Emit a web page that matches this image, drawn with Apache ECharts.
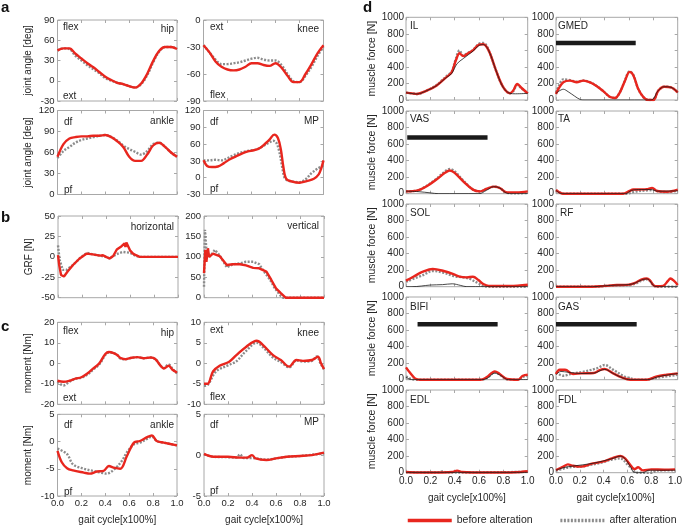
<!DOCTYPE html>
<html><head><meta charset="utf-8">
<script src="https://cdn.jsdelivr.net/npm/echarts@6/dist/echarts.min.js"></script>
<style>html,body{margin:0;padding:0;background:#fff}#c{width:685px;height:526px}</style>
</head><body><div id="c"></div>
<script>
// ---------- data ----------
const gait21 = [0,0.05,0.1,0.15,0.2,0.25,0.3,0.35,0.4,0.45,0.5,0.55,0.6,0.65,0.7,0.75,0.8,0.85,0.9,0.95,1];
const xTickLabels = ['0.0','0.2','0.4','0.6','0.8','1.0'];

// (a) joint angles
const hipAngBefore = [45,48,48,40,33,26,20,13,6,1,-3,-5,-8,-10,-4,10,29,44,50,50,47];
const hipAngAfter  = [45,48,47,37,30,23,17,11,4,0,-3,-5,-8,-10,-5,8,27,43,50,50,47];
const kneeAngBefore = [-28,-36,-46,-52,-55,-56,-55,-52,-48,-48,-50,-51,-48,-53,-62,-69,-69,-60,-49,-37,-28];
const kneeAngAfter  = [-28,-36,-44,-49,-49,-48,-47,-45,-43,-42,-44,-45,-45,-50,-60,-68,-69,-62,-52,-40,-30];
const ankleAngBefore = [54,72,80,82,83,83,84,84,85,82,76,68,54,48,48,57,70,74,68,60,54];
const ankleAngAfter  = [52,62,68,74,78,80,82,84,85,82,77,70,65,61,57,62,72,74,68,60,54];
const mpAngBefore = [[0,31],[0.03,21],[0.07,19],[0.12,20],[0.17,26],[0.22,33],[0.27,38],[0.32,43],[0.37,47],[0.42,49],[0.47,53],[0.52,62],[0.55,68],[0.59,77],[0.62,71],[0.645,50],[0.665,20],[0.69,-2],[0.74,-7],[0.8,-9],[0.86,-6],[0.92,-2],[0.96,6],[0.98,16],[1,31]];
const mpAngAfter  = [[0,31],[0.05,31],[0.1,32],[0.15,31],[0.2,35],[0.25,40],[0.3,44],[0.35,47],[0.4,49],[0.45,51],[0.5,57],[0.55,63],[0.58,66],[0.605,63],[0.63,48],[0.655,20],[0.675,0],[0.7,-5],[0.75,-7],[0.8,-8],[0.85,-3],[0.9,8],[0.95,16],[1,22]];

// (b) ground reaction force
const grfHorBefore = [[0,2],[0.01,-10],[0.025,-22],[0.05,-24],[0.08,-18],[0.125,-10],[0.18,-2],[0.24,4],[0.29,3],[0.35,1.5],[0.375,2],[0.4,0],[0.43,-2],[0.46,1],[0.49,9],[0.53,13],[0.555,16.5],[0.562,12],[0.57,17.5],[0.6,8],[0.625,4],[0.65,2],[0.68,0],[1,0]];
const grfHorAfter  = [[0,14],[0.014,-4],[0.04,-16],[0.07,-16],[0.125,-10],[0.18,-2],[0.24,5],[0.29,3],[0.35,1.5],[0.4,0],[0.43,-2],[0.46,1],[0.5,4],[0.54,6],[0.6,5],[0.625,3],[0.65,1],[0.68,0],[1,0]];
const grfVerBefore = [[0,60],[0.011,117],[0.02,88],[0.033,121],[0.042,100],[0.075,108],[0.13,102],[0.19,80],[0.24,82],[0.3,82],[0.35,79],[0.41,73],[0.46,72],[0.52,64],[0.56,44],[0.6,23],[0.64,11],[0.68,0],[1,0]];
const grfVerAfter  = [[0,27],[0.008,166],[0.02,117],[0.047,100],[0.09,117],[0.13,104],[0.19,74],[0.24,82],[0.3,84],[0.35,88],[0.41,88],[0.46,82],[0.5,64],[0.55,44],[0.59,23],[0.64,4],[0.66,0],[1,0]];

// (c) joint moments
const hipMomBefore = [[0,-8.5],[0.05,-9],[0.1,-8.5],[0.15,-7.5],[0.2,-6.8],[0.25,-5],[0.3,-2.5],[0.35,0],[0.4,4.5],[0.43,5.5],[0.47,5],[0.5,4],[0.53,2.5],[0.57,2],[0.62,2.7],[0.67,3],[0.72,2.5],[0.78,2.8],[0.82,2],[0.86,-1],[0.89,-2.5],[0.93,-1.2],[0.96,-3],[1,-4.5]];
const hipMomAfter  = [[0,-9],[0.05,-10.8],[0.1,-9],[0.15,-7.5],[0.2,-7],[0.25,-5.5],[0.3,-3],[0.35,-0.5],[0.4,4],[0.43,5.3],[0.47,5],[0.5,4],[0.53,2.2],[0.57,2],[0.62,2.7],[0.67,3],[0.72,2.5],[0.78,2.8],[0.82,2],[0.86,-1],[0.89,-2.3],[0.93,-0.5],[0.96,-2.5],[1,-5]];
const kneeMomBefore = [[0,-5],[0.03,-5],[0.075,-2],[0.13,-0.6],[0.21,0.4],[0.27,2],[0.35,4],[0.44,5.5],[0.49,4.5],[0.575,2],[0.64,0.8],[0.71,-0.8],[0.77,0.8],[0.825,0.6],[0.9,0.8],[0.95,1.6],[0.975,0],[1,-1.4]];
const kneeMomAfter  = [[0,-5.5],[0.03,-5.3],[0.1,-2],[0.2,-0.5],[0.27,0.5],[0.35,3],[0.44,5],[0.5,3.7],[0.57,1.5],[0.64,0.3],[0.71,-1],[0.77,0.7],[0.83,0.4],[0.9,0.6],[0.94,1.7],[0.97,0],[1,-1.5]];
const ankleMomBefore = [[0,-1.7],[0.036,-3.8],[0.08,-4.9],[0.13,-5.3],[0.22,-5.7],[0.27,-5.9],[0.33,-5.5],[0.385,-5.4],[0.43,-4.5],[0.47,-4.8],[0.525,-5],[0.58,-2.7],[0.64,-0.2],[0.69,0.1],[0.75,0.8],[0.79,1.1],[0.83,0.1],[0.89,-0.2],[1,-0.7]];
const ankleMomAfter  = [[0,-1.3],[0.08,-2.3],[0.13,-4.2],[0.22,-5],[0.3,-5.4],[0.36,-5.7],[0.41,-5.9],[0.48,-5],[0.54,-3.5],[0.58,-2],[0.64,-0.5],[0.69,-0.2],[0.75,0.5],[0.79,0.9],[0.83,0.1],[0.89,-0.2],[1,-0.7]];
const mpMomBefore = [[0,0.15],[0.08,-0.2],[0.2,-0.2],[0.3,-0.3],[0.36,-0.3],[0.4,0],[0.43,-0.4],[0.52,-0.6],[0.6,-0.4],[0.69,-0.2],[0.8,-0.1],[0.9,0],[1,0.3]];
const mpMomAfter  = [[0,0.1],[0.08,-0.2],[0.2,-0.25],[0.27,-0.3],[0.3,0.1],[0.33,-0.35],[0.4,-0.35],[0.52,-0.55],[0.6,-0.4],[0.69,-0.2],[0.8,-0.1],[0.9,0.05],[1,0.2]];

// (d) muscle forces: before, after, other (thin black), EMG-on bars
const ilBefore = [[0,89],[0.05,80],[0.09,73],[0.17,113],[0.25,173],[0.33,274],[0.375,335],[0.41,480],[0.44,565],[0.47,530],[0.51,565],[0.55,600],[0.6,670],[0.635,675],[0.68,597],[0.745,335],[0.8,153],[0.855,81],[0.88,113],[0.915,194],[0.95,145],[1,81]];
const ilAfter  = [[0,89],[0.05,80],[0.09,73],[0.17,113],[0.25,180],[0.33,285],[0.375,345],[0.41,500],[0.44,600],[0.47,540],[0.51,570],[0.55,605],[0.6,680],[0.635,690],[0.68,600],[0.745,335],[0.8,150],[0.855,80],[0.88,105],[0.915,180],[0.95,140],[1,81]];
const ilOther  = [[0,89],[0.09,73],[0.17,113],[0.25,173],[0.33,270],[0.375,320],[0.42,440],[0.47,500],[0.51,545],[0.55,590],[0.6,660],[0.635,670],[0.68,597],[0.745,335],[0.8,150],[0.855,80],[0.9,75],[1,80]];
const gmedBefore = [[0,73],[0.02,133],[0.06,214],[0.115,234],[0.17,214],[0.225,234],[0.28,214],[0.33,173],[0.39,105],[0.44,40],[0.485,24],[0.525,93],[0.567,234],[0.605,340],[0.635,300],[0.676,133],[0.72,32],[0.76,0],[0.8,0],[0.84,113],[0.89,161],[0.945,153],[1,93]];
const gmedAfter  = [[0,90],[0.02,160],[0.06,250],[0.115,240],[0.17,220],[0.225,235],[0.28,214],[0.33,173],[0.39,105],[0.44,40],[0.485,24],[0.525,93],[0.567,240],[0.605,345],[0.635,305],[0.676,133],[0.72,32],[0.76,0],[0.8,0],[0.84,113],[0.89,161],[0.945,153],[1,93]];
const gmedOther  = [[0,80],[0.06,130],[0.1,100],[0.15,50],[0.2,5],[0.23,0],[0.78,0],[0.84,113],[0.89,161],[0.945,153],[1,93]];
const gmedBar = [[0,690],[0.655,690]];
const vasBefore = [[0,28],[0.09,37],[0.17,90],[0.25,171],[0.32,252],[0.36,280],[0.4,252],[0.47,150],[0.55,49],[0.61,28],[0.66,57],[0.72,85],[0.77,69],[0.83,16],[0.91,16],[1,28]];
const vasAfter  = [[0,28],[0.09,37],[0.17,95],[0.25,180],[0.32,270],[0.36,300],[0.4,270],[0.47,160],[0.55,52],[0.61,28],[0.66,57],[0.72,85],[0.77,69],[0.83,10],[0.91,5],[1,10]];
const vasOther  = [[0,30],[0.1,25],[0.2,10],[0.27,0],[0.6,0],[0.66,40],[0.72,85],[0.77,69],[0.83,5],[0.87,0],[1,0]];
const vasBar = [[0.01,680],[0.67,680]];
const taBefore = [[0,45],[0.03,15],[0.06,0],[0.55,0],[0.6,30],[0.635,50],[0.7,52],[0.745,55],[0.79,70],[0.83,33],[0.91,24],[1,50]];
const taAfter  = [[0,40],[0.04,10],[0.07,0],[0.58,0],[0.65,25],[0.75,40],[0.8,45],[0.85,25],[0.91,20],[1,35]];
const taOther  = [[0,40],[0.05,0],[0.57,0],[0.62,40],[0.7,50],[0.78,50],[0.84,30],[1,35]];
const solBefore = [[0,73],[0.06,121],[0.14,181],[0.22,214],[0.31,190],[0.39,153],[0.44,121],[0.5,113],[0.55,121],[0.595,81],[0.635,32],[0.68,8],[0.77,8],[0.855,8],[1,24]];
const solAfter  = [[0,60],[0.14,141],[0.22,190],[0.31,169],[0.39,129],[0.47,113],[0.52,97],[0.595,40],[0.635,8],[0.68,0],[1,0]];
const solOther  = [[0,0],[0.05,0],[0.2,20],[0.3,25],[0.38,35],[0.45,15],[0.5,0],[1,0]];
const rfBefore = [[0,0],[0.3,0],[0.4,10],[0.5,20],[0.6,25],[0.65,45],[0.7,85],[0.745,100],[0.77,80],[0.8,20],[0.83,5],[0.88,10],[0.92,70],[0.94,100],[0.97,70],[1,20]];
const rfAfter  = [[0,0],[0.3,0],[0.4,8],[0.5,15],[0.6,20],[0.65,35],[0.7,70],[0.74,90],[0.77,70],[0.8,15],[0.83,0],[1,0]];
const rfOther  = [[0,0],[0.3,0],[0.4,10],[0.5,20],[0.6,25],[0.65,45],[0.7,80],[0.745,95],[0.77,75],[0.8,15],[0.83,0],[1,0]];
const bifiBefore = [[0,149],[0.03,89],[0.074,16],[0.115,0],[0.61,0],[0.66,28],[0.73,101],[0.77,69],[0.83,8],[0.92,0],[0.96,48],[1,60]];
const bifiAfter  = [[0,40],[0.04,10],[0.08,0],[0.62,0],[0.67,25],[0.73,90],[0.77,60],[0.83,5],[0.92,0],[0.96,35],[1,45]];
const bifiOther  = [[0,30],[0.05,0],[0.62,0],[0.67,20],[0.73,80],[0.78,50],[0.84,0],[1,0]];
const bifiBar = [[0.095,670],[0.753,670]];
const gasBefore = [[0,69],[0.03,121],[0.074,121],[0.14,69],[0.21,77],[0.31,81],[0.36,117],[0.4,129],[0.47,77],[0.54,28],[0.61,0],[0.745,0],[0.83,40],[0.91,60],[1,77]];
const gasAfter  = [[0,89],[0.06,48],[0.14,77],[0.225,97],[0.335,137],[0.4,177],[0.47,121],[0.55,48],[0.63,8],[0.68,0],[0.72,0],[0.85,28],[1,60]];
const gasOther  = [[0,60],[0.04,100],[0.1,90],[0.2,75],[0.31,80],[0.4,125],[0.47,75],[0.55,20],[0.61,0],[0.75,0],[0.85,40],[1,75]];
const gasBar = [[0,670],[0.663,670]];
const edlBefore = [[0,8],[0.1,3],[0.3,3],[0.38,8],[0.42,25],[0.46,8],[0.55,3],[0.8,3],[0.9,6],[1,18]];
const edlAfter  = [[0,5],[0.2,3],[0.27,5],[0.3,15],[0.33,5],[0.45,3],[1,10]];
const edlOther  = [[0,4],[1,4]];
const fdlBefore = [[0,33],[0.06,73],[0.1,101],[0.14,85],[0.21,73],[0.31,113],[0.39,133],[0.47,173],[0.54,202],[0.58,173],[0.635,73],[0.66,44],[0.69,65],[0.73,28],[0.8,40],[0.91,36],[1,40]];
const fdlAfter  = [[0,24],[0.09,60],[0.14,70],[0.21,75],[0.31,100],[0.39,125],[0.47,160],[0.54,173],[0.6,100],[0.65,30],[0.67,0],[0.8,0],[0.85,25],[1,30]];
const fdlOther  = [[0,30],[0.06,60],[0.14,80],[0.31,113],[0.47,170],[0.54,200],[0.58,170],[0.63,60],[0.66,0],[0.73,0],[0.78,30],[1,30]];

// ---------- layout ----------
const FONT = '"Liberation Sans", Arial, sans-serif';
const RED = '#e8261e', GRAY = '#8c8c8c', BLACK = '#1a1a1a', AXC = '#a8a8a8', TXT = '#262626';
const pair = ys => ys.map((y, i) => [gait21[i], y]);

const dTops = [17.3, 111, 204, 297, 390];
const D_H = 82.7, D_W = 121.7, D_L1 = 406, D_L2 = 556;

const panels = [
  // a
  {r:[57.5,20,119.5,81], y:[-30,90,30], name:'joint angle [deg]', gap:24, b:pair(hipAngBefore), a:pair(hipAngAfter)},
  {r:[203.5,20,120,81], y:[-90,0,30], b:pair(kneeAngBefore), a:pair(kneeAngAfter)},
  {r:[57.5,110.5,119.5,84], y:[0,120,30], name:'joint angle [deg]', gap:24, b:pair(ankleAngBefore), a:pair(ankleAngAfter)},
  {r:[203.5,110.5,120,84], y:[-30,120,30], b:mpAngBefore, a:mpAngAfter},
  // b
  {r:[58,216,120,81.7], y:[-50,50,25], name:'GRF [N]', gap:24, b:grfHorBefore, a:grfHorAfter, sharp:true},
  {r:[204,216,120,81.7], y:[0,200,50], b:grfVerBefore, a:grfVerAfter, sharp:true},
  // c
  {r:[57.5,322.3,119.5,82], y:[-20,20,10], name:'moment [Nm]', gap:24, b:hipMomBefore, a:hipMomAfter},
  {r:[204,322.3,120,82], y:[-10,10,5], b:kneeMomBefore, a:kneeMomAfter},
  {r:[57.5,414.3,119.5,83], y:[-10,5,5], name:'moment [Nm]', gap:24, b:ankleMomBefore, a:ankleMomAfter, xl:true},
  {r:[204,414.3,120,83], y:[-5,5,5], b:mpMomBefore, a:mpMomAfter, xl:true},
  // d
  {r:[D_L1,dTops[0],D_W,D_H], y:[0,1000,200], name:'muscle force [N]', gap:27, d:true, b:ilBefore, a:ilAfter, o:ilOther},
  {r:[D_L2,dTops[0],D_W,D_H], y:[0,1000,200], d:true, b:gmedBefore, a:gmedAfter, o:gmedOther, bar:gmedBar},
  {r:[D_L1,dTops[1],D_W,D_H], y:[0,1000,200], name:'muscle force [N]', gap:27, d:true, b:vasBefore, a:vasAfter, o:vasOther, bar:vasBar},
  {r:[D_L2,dTops[1],D_W,D_H], y:[0,1000,200], d:true, b:taBefore, a:taAfter, o:taOther},
  {r:[D_L1,dTops[2],D_W,D_H], y:[0,1000,200], name:'muscle force [N]', gap:27, d:true, b:solBefore, a:solAfter, o:solOther},
  {r:[D_L2,dTops[2],D_W,D_H], y:[0,1000,200], d:true, b:rfBefore, a:rfAfter, o:rfOther},
  {r:[D_L1,dTops[3],D_W,D_H], y:[0,1000,200], name:'muscle force [N]', gap:27, d:true, b:bifiBefore, a:bifiAfter, o:bifiOther, bar:bifiBar},
  {r:[D_L2,dTops[3],D_W,D_H], y:[0,1000,200], d:true, b:gasBefore, a:gasAfter, o:gasOther, bar:gasBar},
  {r:[D_L1,dTops[4],D_W,D_H], y:[0,1000,200], name:'muscle force [N]', gap:27, d:true, b:edlBefore, a:edlAfter, o:edlOther, xl:true},
  {r:[D_L2,dTops[4],D_W,D_H], y:[0,1000,200], d:true, b:fdlBefore, a:fdlAfter, o:fdlOther, xl:true}
];

const grid = [], xAxis = [], yAxis = [], series = [];
panels.forEach((p, i) => {
  const fs = p.d ? 10 : 9.5;
  grid.push({left:p.r[0], top:p.r[1], width:p.r[2], height:p.r[3], show:true, borderColor:AXC, borderWidth:1});
  const tick = {show:true, inside:true, length:3, lineStyle:{color:AXC, width:1}};
  const noLine = {show:false, onZero:false};
  xAxis.push({gridIndex:i, type:'value', min:0, max:1, interval:0.2, position:'bottom',
    axisLine:noLine, splitLine:{show:false}, axisTick:tick,
    axisLabel:{show:!!p.xl, margin:p.d?4:2, fontSize:fs, fontFamily:FONT, color:TXT,
      formatter:v => xTickLabels[Math.round(v/0.2)]},
    name:p.xl?'gait cycle[x100%]':'', nameLocation:'middle', nameGap:p.d?21:19,
    nameTextStyle:{fontSize:10, fontFamily:FONT, color:TXT}});
  xAxis.push({gridIndex:i, type:'value', min:0, max:1, interval:0.2, position:'top',
    axisLine:noLine, splitLine:{show:false}, axisTick:tick, axisLabel:{show:false}});
  yAxis.push({gridIndex:i, type:'value', min:p.y[0], max:p.y[1], interval:p.y[2], position:'left',
    axisLine:noLine, splitLine:{show:false}, axisTick:tick,
    axisLabel:{margin:p.d?2:3, fontSize:fs, fontFamily:FONT, color:TXT, formatter:v => String(v)},
    name:p.name||'', nameLocation:'middle', nameGap:p.gap||20, nameRotate:90,
    nameTextStyle:{fontSize:p.d?10.5:10, fontFamily:FONT, color:TXT}});
  yAxis.push({gridIndex:i, type:'value', min:p.y[0], max:p.y[1], interval:p.y[2], position:'right',
    axisLine:noLine, splitLine:{show:false}, axisTick:tick, axisLabel:{show:false}});
  const common = {xAxisIndex:2*i, yAxisIndex:2*i, symbol:'none', animation:false, smooth:p.sharp?false:0.35, clip:true};
  series.push(Object.assign({}, common, {type:'line', name:'after alteration', data:p.a,
    lineStyle:{color:GRAY, width:2.4, type:[2,1.5]}, itemStyle:{color:GRAY}, z:2}));
  series.push(Object.assign({}, common, {type:'line', name:'before alteration', data:p.b,
    lineStyle:{color:RED, width:2.4}, itemStyle:{color:RED}, z:3}));
  if (p.o) series.push(Object.assign({}, common, {type:'line', name:'other', data:p.o,
    lineStyle:{color:BLACK, width:0.8}, itemStyle:{color:BLACK}, z:4}));
  if (p.bar) series.push(Object.assign({}, common, {type:'line', name:'EMG', data:p.bar, smooth:false,
    lineStyle:{color:BLACK, width:4.5, cap:'butt'}, itemStyle:{color:BLACK}, z:5}));
});

// annotations
const notes = [
  ['flex',63,27,'left'],['hip',174,29,'right'],['ext',63,96,'left'],
  ['ext',210,27,'left'],['knee',319,29,'right'],['flex',210,95,'left'],
  ['df',64,122,'left'],['ankle',174,121,'right'],['pf',64,190,'left'],
  ['df',210,122,'left'],['MP',319,121,'right'],['pf',210,189,'left'],
  ['horizontal',174,227,'right'],['vertical',319,226,'right'],
  ['flex',63,331,'left'],['hip',174,333,'right'],['ext',63,398,'left'],
  ['ext',210,330,'left'],['knee',319,333,'right'],['flex',210,397,'left'],
  ['df',64,425,'left'],['ankle',174,425,'right'],['pf',64,492,'left'],
  ['df',210,425,'left'],['MP',319,422,'right'],['pf',210,491,'left'],
  ['IL',410,26,'left'],['GMED',558,26,'left'],['VAS',410,119,'left'],['TA',558,119,'left'],
  ['SOL',410,213,'left'],['RF',560,213,'left'],['BIFI',410,307,'left'],['GAS',558,307,'left'],
  ['EDL',410,400,'left'],['FDL',558,400,'left']
];
const graphic = notes.map(n => ({type:'text', silent:true,
  style:{text:n[0], x:n[1], y:n[2], align:n[3], verticalAlign:'middle', fill:TXT, font:'10px ' + FONT}}));
[['a',1,7.5],['b',1,218],['c',1,327],['d',363,7.5]].forEach(l => graphic.push({type:'text', silent:true,
  style:{text:l[0], x:l[1], y:l[2], align:'left', verticalAlign:'middle', fill:'#111', font:'bold 15px ' + FONT}}));

const chart = echarts.init(document.getElementById('c'), null, {renderer:'canvas'});
chart.setOption({
  animation:false,
  backgroundColor:'#fff',
  grid, xAxis, yAxis, series, graphic,
  legend:{data:['before alteration','after alteration'], left:406, top:515, width:290, orient:'horizontal',
    itemWidth:44, itemHeight:10, itemGap:26, padding:0,
    textStyle:{fontSize:10.5, fontFamily:FONT, color:TXT}, lineStyle:{width:3.5}, itemStyle:{opacity:0},
    selectedMode:false}
});
</script></body></html>
